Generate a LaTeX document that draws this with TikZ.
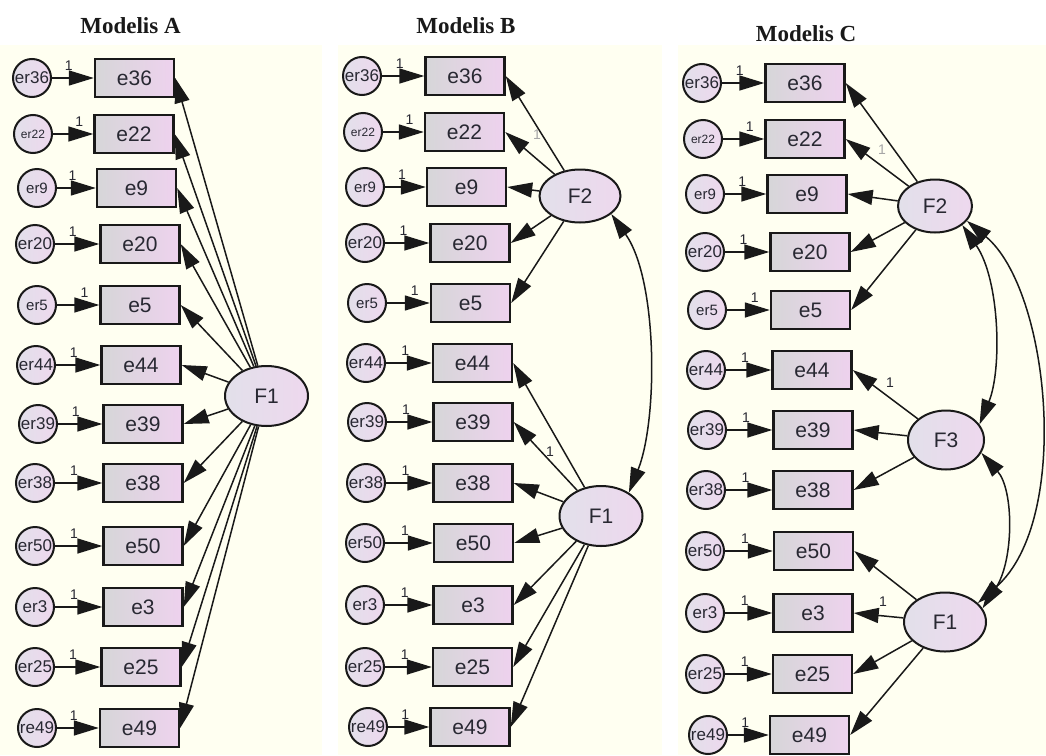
\documentclass[tikz,border=0pt]{standalone}
\usepackage{fontspec}
\setmainfont{Liberation Sans}
\newfontfamily\titlefont{Liberation Serif}
\usetikzlibrary{shapes.geometric,arrows.meta}
\definecolor{cream}{RGB}{255,255,241}
\definecolor{boxgrey}{RGB}{214,214,216}
\definecolor{boxpink}{RGB}{238,210,238}
\definecolor{latA}{RGB}{226,224,234}
\definecolor{latB}{RGB}{238,216,238}
\definecolor{ink}{RGB}{25,25,25}
\definecolor{txt}{RGB}{40,40,50}
\tikzset{
  obs/.style={rectangle, draw=ink, line width=2.4pt, left color=boxgrey, right color=boxpink,
    minimum width=79pt, minimum height=38.5pt, inner sep=0pt, font=\fontsize{21}{21}\selectfont, text=txt},
  errc/.style={circle, draw=ink, line width=2pt, left color=latA, right color=latB,
    minimum size=38pt, inner sep=0pt, text=txt},
  lat/.style={ellipse, draw=ink, line width=2pt, left color=latA, right color=latB,
    inner sep=0pt, font=\fontsize{21}{21}\selectfont, text=txt},
  tipbig/.tip={Triangle[length=25pt 0 0,width=15pt 0]},
  arr/.style={draw=ink, line width=1.5pt, -tipbig},
  darr/.style={draw=ink, line width=1.5pt, tipbig-tipbig},
  one/.style={font=\fontsize{14}{14}\selectfont, text=txt, inner sep=1pt},
  ttl/.style={font=\titlefont\bfseries\fontsize{23}{23}\selectfont, text=ink},
}
% #1 panel, #2 item, #3 circle label, #4 circle x, #5 rect x, #6 y, #7 circle font size, #8 pos of "1"
\newcommand\semrow[8]{%
  \node[errc, font=\fontsize{#7}{#7}\selectfont] (#1c#2) at (#4,#6) {#3};
  \node[obs] (#1#2) at (#5,#6) {#2};
  \draw[arr] (#1c#2) -- node[one, pos=#8, above, yshift=6pt] {1} (#1#2);
}
\begin{document}
\begin{tikzpicture}[x=1pt,y=-1pt]
\useasboundingbox (0,0) rectangle (1046,755);
\fill[white] (0,0) rectangle (1046,755);
\fill[cream] (0,45) rectangle (322,755);
\fill[cream] (338,45) rectangle (662,755);
\fill[cream] (678,45) rectangle (1046,755);

% ---------------- Modelis A
\node[ttl] (tA) at (130.5,26) {Modelis A};
\semrow{A}{e36}{er36}{32}{134.5}{78}{17}{0.4}
\semrow{A}{e22}{er22}{33}{134}{134}{12}{0.65}
\semrow{A}{e9}{er9}{37}{136.5}{188}{15}{0.4}
\semrow{A}{e20}{er20}{35}{140}{244}{17}{0.4}
\semrow{A}{e5}{er5}{37}{140}{305}{15}{0.65}
\semrow{A}{e44}{er44}{36}{141}{365}{17}{0.4}
\semrow{A}{e39}{er39}{38}{143}{424}{17}{0.4}
\semrow{A}{e38}{er38}{35}{143}{483}{17}{0.4}
\semrow{A}{e50}{er50}{35}{143}{546}{17}{0.4}
\semrow{A}{e3}{er3}{35}{143}{607}{17}{0.4}
\semrow{A}{e25}{er25}{35}{141}{667}{17}{0.4}
\semrow{A}{e49}{re49}{37}{139.5}{728}{17}{0.4}
\node[lat, minimum width=83pt, minimum height=60pt] (AF1) at (266.5,396) {F1};
\foreach \i in {e36,e22,e9,e20,e5,e44,e39,e38,e50,e3,e25,e49}
  \draw[arr] (AF1) -- (A\i.east);

% ---------------- Modelis B
\node[ttl] (tB) at (466,26) {Modelis B};
\semrow{B}{e36}{er36}{362}{465}{76}{17}{0.42}
\semrow{B}{e22}{er22}{363}{464.5}{132}{12}{0.65}
\semrow{B}{e9}{er9}{365}{466.5}{187}{15}{0.42}
\semrow{B}{e20}{er20}{365}{470}{243}{17}{0.42}
\semrow{B}{e5}{er5}{367}{470.5}{303}{15}{0.65}
\semrow{B}{e44}{er44}{366}{472.5}{363}{17}{0.42}
\semrow{B}{e39}{er39}{367}{473}{422}{17}{0.42}
\semrow{B}{e38}{er38}{366}{473}{483}{17}{0.42}
\semrow{B}{e50}{er50}{365}{473.5}{543}{17}{0.42}
\semrow{B}{e3}{er3}{365}{473}{605}{17}{0.42}
\semrow{B}{e25}{er25}{365}{472.5}{667}{17}{0.42}
\semrow{B}{e49}{re49}{368}{470}{727}{17}{0.42}
\node[lat, minimum width=81pt, minimum height=53pt] (BF2) at (580,196) {F2};
\node[lat, minimum width=83pt, minimum height=60pt] (BF1) at (601,516) {F1};
\foreach \i in {e36,e22,e9,e20,e5}
  \draw[arr] (BF2) -- (B\i.east);
\foreach \i in {e44,e39,e38,e50,e3,e25,e49}
  \draw[arr] (BF1) -- (B\i.east);
\draw[darr] (BF2.-30) .. controls (658,280) and (658,420) .. (BF1.40);
\node[one] (B1a) at (550,452) {1};
\node[one, text=gray!70] (B1b) at (537,135) {1};

% ---------------- Modelis C
\node[ttl] (tC) at (806,34) {Modelis C};
\semrow{C}{e36}{er36}{702}{805}{83}{17}{0.42}
\semrow{C}{e22}{er22}{703}{805}{139}{12}{0.65}
\semrow{C}{e9}{er9}{705}{807}{194}{15}{0.42}
\semrow{C}{e20}{er20}{705}{810}{252}{17}{0.42}
\semrow{C}{e5}{er5}{707}{810.5}{310}{15}{0.65}
\semrow{C}{e44}{er44}{706}{812}{370}{17}{0.42}
\semrow{C}{e39}{er39}{707}{813}{430}{17}{0.42}
\semrow{C}{e38}{er38}{706}{813}{490}{17}{0.42}
\semrow{C}{e50}{er50}{705}{813.5}{551}{17}{0.42}
\semrow{C}{e3}{er3}{705}{813}{613}{17}{0.42}
\semrow{C}{e25}{er25}{705}{812.5}{674}{17}{0.42}
\semrow{C}{e49}{re49}{708}{809.5}{735}{17}{0.42}
\node[lat, minimum width=74pt, minimum height=53pt] (CF2) at (935,206) {F2};
\node[lat, minimum width=76pt, minimum height=59pt] (CF3) at (946,440) {F3};
\node[lat, minimum width=82pt, minimum height=59pt] (CF1) at (945,622) {F1};
\foreach \i in {e36,e22,e9,e20,e5}
  \draw[arr] (CF2) -- (C\i.east);
\foreach \i in {e44,e39,e38}
  \draw[arr] (CF3) -- (C\i.east);
\foreach \i in {e50,e3,e25,e49}
  \draw[arr] (CF1) -- (C\i.east);
\draw[darr] (CF2.-35) .. controls (1000,280) and (1002,370) .. (CF3.25);
\draw[darr] (CF3.-20) .. controls (1014,490) and (1014,560) .. (CF1.20);
\draw[darr] (CF2.-25) .. controls (1050,290) and (1072,520) .. (CF1.30);
\node[one] (C1a) at (890,383) {1};
\node[one] (C1b) at (883,602) {1};
\node[one, text=gray!70] (C1c) at (882,150) {1};
\end{tikzpicture}
\end{document}
